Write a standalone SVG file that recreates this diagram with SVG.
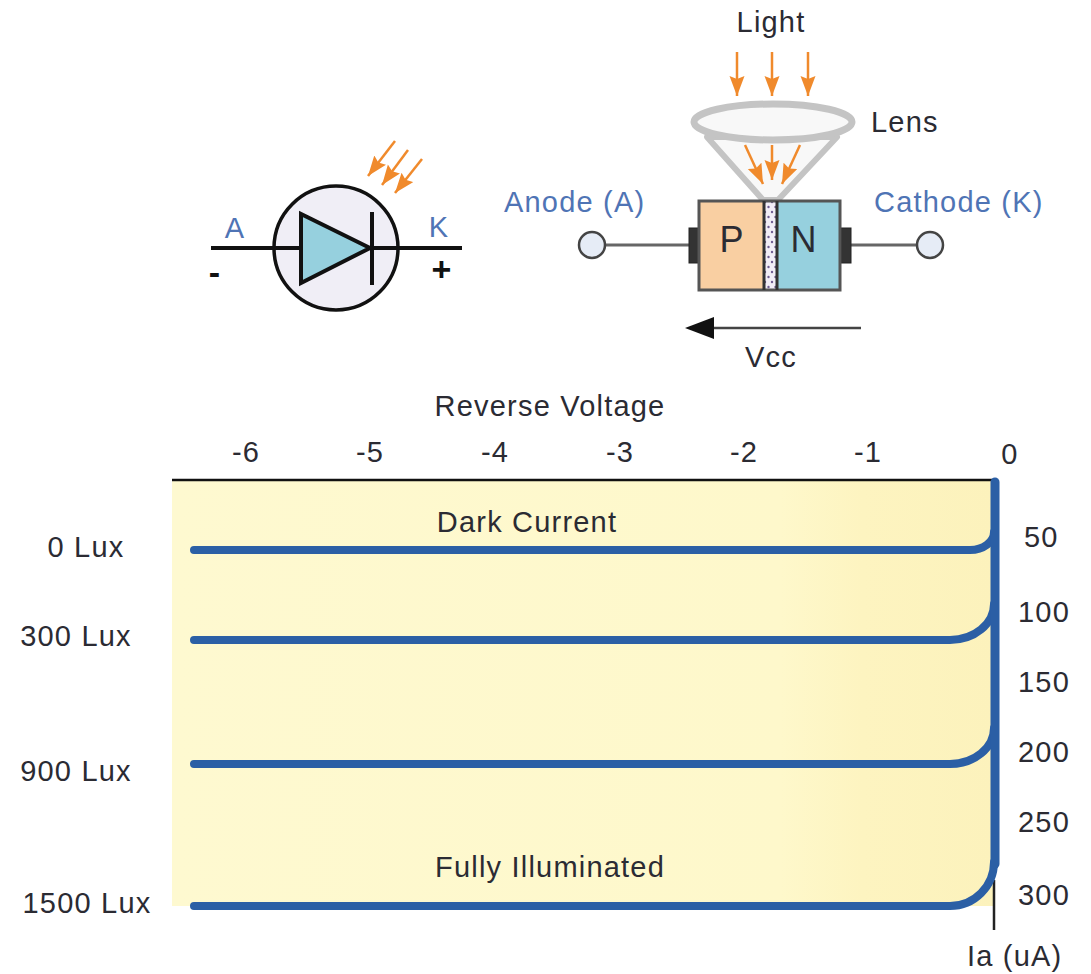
<svg xmlns="http://www.w3.org/2000/svg" width="1091" height="974" viewBox="0 0 1091 974">
<style>
text{font-family:"Liberation Sans",Arial,sans-serif;font-size:29px;letter-spacing:1.2px;fill:#2b2b33}
.b{fill:#4f74b5}
.m{text-anchor:middle}
.w{fill:none;stroke:#111;stroke-width:4}
.o{stroke:#f08a2c;stroke-width:2.5;fill:none;marker-end:url(#oa)}
.c{fill:none;stroke:#2b5fa5;stroke-width:8;stroke-linecap:round}
.gw{stroke:#666;stroke-width:3;fill:none}
.pad{fill:#333;stroke:#222;stroke-width:1}
.term{fill:#e6ecf6;stroke:#444;stroke-width:2.5}
.lens{fill:#f8f8f8;stroke:#c4c4c4;stroke-width:7}
</style>
<defs>
<marker id="oa" markerUnits="userSpaceOnUse" markerWidth="22" markerHeight="16" refX="20" refY="7.5" orient="auto"><path d="M0 0L20 7.5L0 15L3 7.5Z" fill="#f08a2c"/></marker>
<linearGradient id="bg" x1="0" x2="1" y1="0" y2="0"><stop offset="0" stop-color="#fef9d0"/><stop offset=".74" stop-color="#fef8cb"/><stop offset=".84" stop-color="#fdf4c0"/><stop offset="1" stop-color="#fcf2bc"/></linearGradient>
<pattern id="dots" width="7" height="10" patternUnits="userSpaceOnUse"><rect width="7" height="10" fill="#f1edf6"/><circle cx="2" cy="2" r="1.2" fill="#6f5c92"/><circle cx="5.5" cy="7" r="1.2" fill="#6f5c92"/></pattern>
</defs>
<g id="plot-area"><rect x="172" y="480" width="822" height="426" fill="url(#bg)"/></g>
<g id="diode-symbol">
<circle cx="336" cy="248" r="62" fill="#f0eef6" stroke="#111" stroke-width="3.5"/>
<path class="w" d="M211 248H301M371 248H462M372 212V285"/>
<path d="M301 214V283L370 248Z" fill="#96d0de" stroke="#111" stroke-width="4"/>
<path class="o" d="M395 141L368 176"/><path class="o" d="M408 150L382 185"/><path class="o" d="M422 159L395 193"/>
<text x="235" y="238" class="b m">A</text><text x="439" y="237" class="b m">K</text>
<text x="215" y="284" class="m" style="font-size:34px;font-weight:bold;fill:#111">-</text>
<text x="442" y="281" class="m" style="font-size:34px;font-weight:bold;fill:#111">+</text>
</g>
<g id="photodiode">
<path d="M707 137L763 200H778L837 137Z" fill="#f8f8f8" stroke="#c4c4c4" stroke-width="6" stroke-linejoin="round"/>
<ellipse class="lens" cx="773" cy="122" rx="79" ry="18"/>
<path class="o" d="M737 52V96"/><path class="o" d="M772 52V96"/><path class="o" d="M808 52V96"/>
<path class="o" d="M745 145L763 184"/><path class="o" d="M772 145V180"/><path class="o" d="M800 145L782 184"/>
<path class="gw" d="M605 245H689M851 245H918"/>
<circle class="term" cx="592" cy="245" r="13"/><circle class="term" cx="930" cy="245" r="13"/>
<rect class="pad" x="689" y="228" width="10" height="35"/><rect class="pad" x="841" y="228" width="10" height="35"/>
<rect x="699" y="201" width="65" height="89" fill="#f9cfa2"/>
<rect x="777" y="201" width="63" height="89" fill="#96d0de"/>
<rect x="764" y="201" width="13" height="89" fill="url(#dots)"/>
<path d="M699 201H840V290H699Z" fill="none" stroke="#555" stroke-width="3"/>
<path d="M764 201V290M777 201V290" fill="none" stroke="#333" stroke-width="3"/>
<text x="732" y="252" class="m" style="font-size:36px">P</text><text x="804" y="252" class="m" style="font-size:36px">N</text>
<path d="M705 328H861" stroke="#444" stroke-width="2.5"/><path d="M685 328L714 317V339Z" fill="#111"/>
<text x="771" y="32" class="m">Light</text><text x="871" y="132">Lens</text>
<text x="504" y="212" class="b">Anode (A)</text><text x="874" y="212" class="b">Cathode (K)</text>
<text x="771" y="367" class="m">Vcc</text>
</g>
<g id="axes">
<path d="M172 480H994" stroke="#111" stroke-width="2.5"/><path d="M994 880V930" stroke="#222" stroke-width="2.5"/>
<text x="550" y="416" class="m">Reverse Voltage</text>
<text x="246" y="462" class="m">-6</text><text x="370" y="462" class="m">-5</text><text x="495" y="462" class="m">-4</text><text x="620" y="462" class="m">-3</text><text x="744" y="462" class="m">-2</text><text x="868" y="462" class="m">-1</text><text x="1010" y="464" class="m">0</text>
<text x="1024" y="547">50</text><text x="1018" y="622">100</text><text x="1018" y="692">150</text><text x="1018" y="762">200</text><text x="1018" y="832">250</text><text x="1018" y="905">300</text>
<text x="967" y="966">Ia (uA)</text>
<text x="86" y="557" class="m">0 Lux</text><text x="76" y="646" class="m">300 Lux</text><text x="76" y="781" class="m">900 Lux</text><text x="87" y="913" class="m">1500 Lux</text>
<text x="527" y="532" class="m">Dark Current</text><text x="550" y="877" class="m">Fully Illuminated</text>
</g>
<g id="connectors">
<path class="c" d="M194 550H970A24 18 0 0 0 994 532"/>
<path class="c" d="M194 640H950A44 36 0 0 0 994 604"/>
<path class="c" d="M194 764H950A44 36 0 0 0 994 728"/>
<path class="c" d="M194 906H950A44 44 0 0 0 994 862"/>
<path class="c" style="stroke-width:9" d="M995 482V864"/>
</g>
</svg>
